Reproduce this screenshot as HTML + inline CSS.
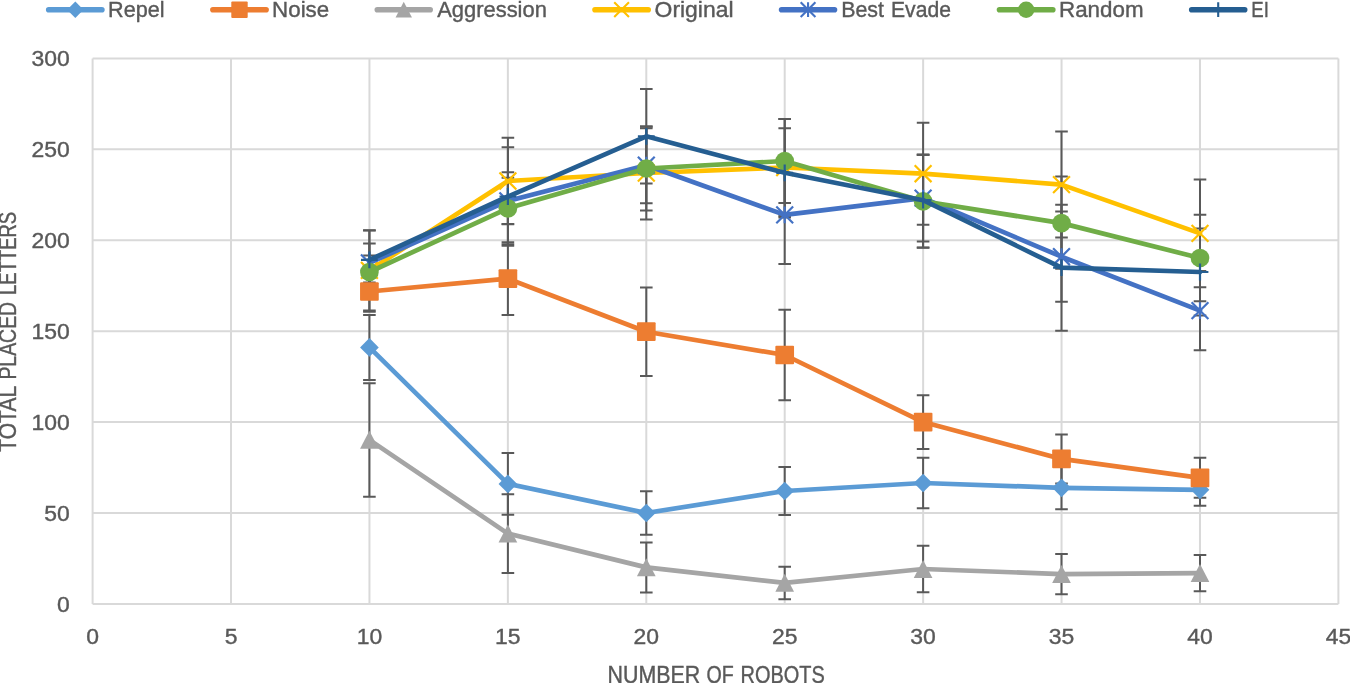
<!DOCTYPE html>
<html><head><meta charset="utf-8"><title>chart</title>
<style>html,body{margin:0;padding:0;background:#fff;overflow:hidden}svg{display:block;will-change:transform}text{font-family:"Liberation Sans",sans-serif;fill:#595959;stroke:#595959;stroke-width:0.4px}</style></head>
<body>
<svg width="1350" height="683" viewBox="0 0 1350 683">
<rect width="1350" height="683" fill="#fff"/>
<g stroke="#d9d9d9" stroke-width="2" fill="none">
<line x1="92.60" y1="58.4" x2="92.60" y2="603.9"/>
<line x1="231.02" y1="58.4" x2="231.02" y2="603.9"/>
<line x1="369.44" y1="58.4" x2="369.44" y2="603.9"/>
<line x1="507.87" y1="58.4" x2="507.87" y2="603.9"/>
<line x1="646.29" y1="58.4" x2="646.29" y2="603.9"/>
<line x1="784.71" y1="58.4" x2="784.71" y2="603.9"/>
<line x1="923.13" y1="58.4" x2="923.13" y2="603.9"/>
<line x1="1061.56" y1="58.4" x2="1061.56" y2="603.9"/>
<line x1="1199.98" y1="58.4" x2="1199.98" y2="603.9"/>
<line x1="1338.40" y1="58.4" x2="1338.40" y2="603.9"/>
<line x1="92.6" y1="603.90" x2="1338.4" y2="603.90"/>
<line x1="92.6" y1="512.98" x2="1338.4" y2="512.98"/>
<line x1="92.6" y1="422.07" x2="1338.4" y2="422.07"/>
<line x1="92.6" y1="331.15" x2="1338.4" y2="331.15"/>
<line x1="92.6" y1="240.23" x2="1338.4" y2="240.23"/>
<line x1="92.6" y1="149.32" x2="1338.4" y2="149.32"/>
<line x1="92.6" y1="58.40" x2="1338.4" y2="58.40"/>
</g>
<g stroke="#595959" stroke-width="2.0" fill="none">
<path d="M369.40 314.90L369.40 379.90M363.10 314.90L375.70 314.90M363.10 379.90L375.70 379.90"/>
<path d="M507.90 453.10L507.90 514.70M501.60 453.10L514.20 453.10M501.60 514.70L514.20 514.70"/>
<path d="M646.30 491.30L646.30 534.70M640.00 491.30L652.60 491.30M640.00 534.70L652.60 534.70"/>
<path d="M784.70 467.00L784.70 515.00M778.40 467.00L791.00 467.00M778.40 515.00L791.00 515.00"/>
<path d="M923.10 457.80L923.10 508.20M916.80 457.80L929.40 457.80M916.80 508.20L929.40 508.20"/>
<path d="M1061.50 466.40L1061.50 509.20M1055.20 466.40L1067.80 466.40M1055.20 509.20L1067.80 509.20"/>
<path d="M1200.00 473.80L1200.00 505.80M1193.70 473.80L1206.30 473.80M1193.70 505.80L1206.30 505.80"/>
<path d="M369.40 271.20L369.40 311.80M363.10 271.20L375.70 271.20M363.10 311.80L375.70 311.80"/>
<path d="M507.90 242.30L507.90 314.90M501.60 242.30L514.20 242.30M501.60 314.90L514.20 314.90"/>
<path d="M646.30 287.50L646.30 375.90M640.00 287.50L652.60 287.50M640.00 375.90L652.60 375.90"/>
<path d="M784.70 309.75L784.70 400.25M778.40 309.75L791.00 309.75M778.40 400.25L791.00 400.25"/>
<path d="M923.10 395.25L923.10 448.95M916.80 395.25L929.40 395.25M916.80 448.95L929.40 448.95"/>
<path d="M1061.50 434.40L1061.50 483.40M1055.20 434.40L1067.80 434.40M1055.20 483.40L1067.80 483.40"/>
<path d="M1200.00 457.80L1200.00 497.80M1193.70 457.80L1206.30 457.80M1193.70 497.80L1206.30 497.80"/>
<path d="M369.40 383.15L369.40 496.65M363.10 383.15L375.70 383.15M363.10 496.65L375.70 496.65"/>
<path d="M507.90 494.25L507.90 572.95M501.60 494.25L514.20 494.25M501.60 572.95L514.20 572.95"/>
<path d="M646.30 542.40L646.30 592.40M640.00 542.40L652.60 542.40M640.00 592.40L652.60 592.40"/>
<path d="M784.70 566.65L784.70 599.15M778.40 566.65L791.00 566.65M778.40 599.15L791.00 599.15"/>
<path d="M923.10 545.80L923.10 592.20M916.80 545.80L929.40 545.80M916.80 592.20L929.40 592.20"/>
<path d="M1061.50 553.95L1061.50 594.25M1055.20 553.95L1067.80 553.95M1055.20 594.25L1067.80 594.25"/>
<path d="M1200.00 555.05L1200.00 591.15M1193.70 555.05L1206.30 555.05M1193.70 591.15L1206.30 591.15"/>
<path d="M369.40 230.40L369.40 310.40M363.10 230.40L375.70 230.40M363.10 310.40L375.70 310.40"/>
<path d="M507.90 137.80L507.90 224.20M501.60 137.80L514.20 137.80M501.60 224.20L514.20 224.20"/>
<path d="M646.30 126.50L646.30 219.50M640.00 126.50L652.60 126.50M640.00 219.50L652.60 219.50"/>
<path d="M784.70 119.10L784.70 215.90M778.40 119.10L791.00 119.10M778.40 215.90L791.00 215.90"/>
<path d="M923.10 122.70L923.10 224.70M916.80 122.70L929.40 122.70M916.80 224.70L929.40 224.70"/>
<path d="M1061.50 131.60L1061.50 237.60M1055.20 131.60L1067.80 131.60M1055.20 237.60L1067.80 237.60"/>
<path d="M1200.00 179.50L1200.00 287.30M1193.70 179.50L1206.30 179.50M1193.70 287.30L1206.30 287.30"/>
<path d="M369.40 243.40L369.40 282.40M363.10 243.40L375.70 243.40M363.10 282.40L375.70 282.40"/>
<path d="M507.90 177.80L507.90 224.00M501.60 177.80L514.20 177.80M501.60 224.00L514.20 224.00"/>
<path d="M646.30 128.30L646.30 203.30M640.00 128.30L652.60 128.30M640.00 203.30L652.60 203.30"/>
<path d="M784.70 165.90L784.70 263.90M778.40 165.90L791.00 165.90M778.40 263.90L791.00 263.90"/>
<path d="M923.10 154.75L923.10 241.45M916.80 154.75L929.40 154.75M916.80 241.45L929.40 241.45"/>
<path d="M1061.50 211.60L1061.50 301.80M1055.20 211.60L1067.80 211.60M1055.20 301.80L1067.80 301.80"/>
<path d="M1200.00 270.90L1200.00 350.30M1193.70 270.90L1206.30 270.90M1193.70 350.30L1206.30 350.30"/>
<path d="M369.40 255.60L369.40 288.40M363.10 255.60L375.70 255.60M363.10 288.40L375.70 288.40"/>
<path d="M507.90 172.30L507.90 244.30M501.60 172.30L514.20 172.30M501.60 244.30L514.20 244.30"/>
<path d="M646.30 126.40L646.30 210.60M640.00 126.40L652.60 126.40M640.00 210.60L652.60 210.60"/>
<path d="M784.70 119.05L784.70 202.95M778.40 119.05L791.00 119.05M778.40 202.95L791.00 202.95"/>
<path d="M923.10 154.85L923.10 247.75M916.80 154.85L929.40 154.85M916.80 247.75L929.40 247.75"/>
<path d="M1061.50 176.60L1061.50 268.80M1055.20 176.60L1067.80 176.60M1055.20 268.80L1067.80 268.80"/>
<path d="M1200.00 214.85L1200.00 301.15M1193.70 214.85L1206.30 214.85M1193.70 301.15L1206.30 301.15"/>
<path d="M369.40 230.20L369.40 289.60M363.10 230.20L375.70 230.20M363.10 289.60L375.70 289.60"/>
<path d="M507.90 147.20L507.90 245.80M501.60 147.20L514.20 147.20M501.60 245.80L514.20 245.80"/>
<path d="M646.30 89.00L646.30 183.60M640.00 89.00L652.60 89.00M640.00 183.60L652.60 183.60"/>
<path d="M784.70 128.20L784.70 217.40M778.40 128.20L791.00 128.20M778.40 217.40L791.00 217.40"/>
<path d="M923.10 154.70L923.10 247.60M916.80 154.70L929.40 154.70M916.80 247.60L929.40 247.60"/>
<path d="M1061.50 204.70L1061.50 330.70M1055.20 204.70L1067.80 204.70M1055.20 330.70L1067.80 330.70"/>
<path d="M1200.00 228.60L1200.00 315.40M1193.70 228.60L1206.30 228.60M1193.70 315.40L1206.30 315.40"/>
</g>
<!-- Repel -->
<polyline points="369.40,347.40 507.90,483.90 646.30,513.00 784.70,491.00 923.10,483.00 1061.50,487.80 1200.00,489.80" fill="none" stroke="#5b9bd5" stroke-width="4.7" stroke-linejoin="round" stroke-linecap="round"/>
<path d="M360.05 347.40L369.40 338.05L378.75 347.40L369.40 356.75Z" fill="#5b9bd5"/>
<path d="M498.55 483.90L507.90 474.55L517.25 483.90L507.90 493.25Z" fill="#5b9bd5"/>
<path d="M636.95 513.00L646.30 503.65L655.65 513.00L646.30 522.35Z" fill="#5b9bd5"/>
<path d="M775.35 491.00L784.70 481.65L794.05 491.00L784.70 500.35Z" fill="#5b9bd5"/>
<path d="M913.75 483.00L923.10 473.65L932.45 483.00L923.10 492.35Z" fill="#5b9bd5"/>
<path d="M1052.15 487.80L1061.50 478.45L1070.85 487.80L1061.50 497.15Z" fill="#5b9bd5"/>
<path d="M1190.65 489.80L1200.00 480.45L1209.35 489.80L1200.00 499.15Z" fill="#5b9bd5"/>
<!-- Noise -->
<polyline points="369.40,291.50 507.90,278.60 646.30,331.70 784.70,355.00 923.10,422.10 1061.50,458.90 1200.00,477.80" fill="none" stroke="#ed7d31" stroke-width="4.7" stroke-linejoin="round" stroke-linecap="round"/>
<rect x="360.05" y="282.15" width="18.70" height="18.70" rx="1" fill="#ed7d31"/>
<rect x="498.55" y="269.25" width="18.70" height="18.70" rx="1" fill="#ed7d31"/>
<rect x="636.95" y="322.35" width="18.70" height="18.70" rx="1" fill="#ed7d31"/>
<rect x="775.35" y="345.65" width="18.70" height="18.70" rx="1" fill="#ed7d31"/>
<rect x="913.75" y="412.75" width="18.70" height="18.70" rx="1" fill="#ed7d31"/>
<rect x="1052.15" y="449.55" width="18.70" height="18.70" rx="1" fill="#ed7d31"/>
<rect x="1190.65" y="468.45" width="18.70" height="18.70" rx="1" fill="#ed7d31"/>
<!-- Aggression -->
<polyline points="369.40,439.90 507.90,533.60 646.30,567.40 784.70,582.90 923.10,569.00 1061.50,574.10 1200.00,573.10" fill="none" stroke="#a5a5a5" stroke-width="4.7" stroke-linejoin="round" stroke-linecap="round"/>
<path d="M369.40 430.85L378.75 448.85L360.05 448.85Z" fill="#a5a5a5"/>
<path d="M507.90 524.55L517.25 542.55L498.55 542.55Z" fill="#a5a5a5"/>
<path d="M646.30 558.35L655.65 576.35L636.95 576.35Z" fill="#a5a5a5"/>
<path d="M784.70 573.85L794.05 591.85L775.35 591.85Z" fill="#a5a5a5"/>
<path d="M923.10 559.95L932.45 577.95L913.75 577.95Z" fill="#a5a5a5"/>
<path d="M1061.50 565.05L1070.85 583.05L1052.15 583.05Z" fill="#a5a5a5"/>
<path d="M1200.00 564.05L1209.35 582.05L1190.65 582.05Z" fill="#a5a5a5"/>
<!-- Original -->
<polyline points="369.40,270.40 507.90,181.00 646.30,173.00 784.70,167.50 923.10,173.70 1061.50,184.60 1200.00,233.40" fill="none" stroke="#ffc000" stroke-width="4.7" stroke-linejoin="round" stroke-linecap="round"/>
<path d="M360.98 261.98L377.81 278.81M360.98 278.81L377.81 261.98" stroke="#ffc000" stroke-width="2.2" fill="none"/>
<path d="M499.48 172.59L516.31 189.41M499.48 189.41L516.31 172.59" stroke="#ffc000" stroke-width="2.2" fill="none"/>
<path d="M637.88 164.59L654.71 181.41M637.88 181.41L654.71 164.59" stroke="#ffc000" stroke-width="2.2" fill="none"/>
<path d="M776.29 159.09L793.12 175.91M776.29 175.91L793.12 159.09" stroke="#ffc000" stroke-width="2.2" fill="none"/>
<path d="M914.69 165.28L931.51 182.11M914.69 182.11L931.51 165.28" stroke="#ffc000" stroke-width="2.2" fill="none"/>
<path d="M1053.09 176.19L1069.91 193.01M1053.09 193.01L1069.91 176.19" stroke="#ffc000" stroke-width="2.2" fill="none"/>
<path d="M1191.59 224.99L1208.41 241.81M1191.59 241.81L1208.41 224.99" stroke="#ffc000" stroke-width="2.2" fill="none"/>
<!-- Best Evade -->
<polyline points="369.40,262.90 507.90,200.90 646.30,165.20 784.70,214.90 923.10,198.10 1061.50,256.70 1200.00,310.60" fill="none" stroke="#4472c4" stroke-width="4.7" stroke-linejoin="round" stroke-linecap="round"/>
<path d="M360.98 254.48L377.81 271.31M360.98 271.31L377.81 254.48M369.40 254.48L369.40 271.31" stroke="#4472c4" stroke-width="2.2" fill="none"/>
<path d="M499.48 192.49L516.31 209.31M499.48 209.31L516.31 192.49M507.90 192.49L507.90 209.31" stroke="#4472c4" stroke-width="2.2" fill="none"/>
<path d="M637.88 156.78L654.71 173.61M637.88 173.61L654.71 156.78M646.30 156.78L646.30 173.61" stroke="#4472c4" stroke-width="2.2" fill="none"/>
<path d="M776.29 206.49L793.12 223.31M776.29 223.31L793.12 206.49M784.70 206.49L784.70 223.31" stroke="#4472c4" stroke-width="2.2" fill="none"/>
<path d="M914.69 189.69L931.51 206.51M914.69 206.51L931.51 189.69M923.10 189.69L923.10 206.51" stroke="#4472c4" stroke-width="2.2" fill="none"/>
<path d="M1053.09 248.28L1069.91 265.12M1053.09 265.12L1069.91 248.28M1061.50 248.28L1061.50 265.12" stroke="#4472c4" stroke-width="2.2" fill="none"/>
<path d="M1191.59 302.19L1208.41 319.02M1191.59 319.02L1208.41 302.19M1200.00 302.19L1200.00 319.02" stroke="#4472c4" stroke-width="2.2" fill="none"/>
<!-- Random -->
<polyline points="369.40,272.00 507.90,208.30 646.30,168.50 784.70,161.00 923.10,201.30 1061.50,223.10 1200.00,258.00" fill="none" stroke="#70ad47" stroke-width="4.7" stroke-linejoin="round" stroke-linecap="round"/>
<circle cx="369.40" cy="272.00" r="9.35" fill="#70ad47"/>
<circle cx="507.90" cy="208.30" r="9.35" fill="#70ad47"/>
<circle cx="646.30" cy="168.50" r="9.35" fill="#70ad47"/>
<circle cx="784.70" cy="161.00" r="9.35" fill="#70ad47"/>
<circle cx="923.10" cy="201.30" r="9.35" fill="#70ad47"/>
<circle cx="1061.50" cy="223.10" r="9.35" fill="#70ad47"/>
<circle cx="1200.00" cy="258.00" r="9.35" fill="#70ad47"/>
<!-- EI -->
<polyline points="369.40,259.90 507.90,196.50 646.30,136.30 784.70,172.80 923.10,200.20 1061.50,267.70 1200.00,272.00" fill="none" stroke="#255e91" stroke-width="4.7" stroke-linejoin="round" stroke-linecap="round"/>
<path d="M360.98 259.90L377.81 259.90M369.40 251.48L369.40 268.31" stroke="#255e91" stroke-width="2.2" fill="none"/>
<path d="M499.48 196.50L516.31 196.50M507.90 188.09L507.90 204.91" stroke="#255e91" stroke-width="2.2" fill="none"/>
<path d="M637.88 136.30L654.71 136.30M646.30 127.89L646.30 144.72" stroke="#255e91" stroke-width="2.2" fill="none"/>
<path d="M776.29 172.80L793.12 172.80M784.70 164.39L784.70 181.22" stroke="#255e91" stroke-width="2.2" fill="none"/>
<path d="M914.69 200.20L931.51 200.20M923.10 191.78L923.10 208.61" stroke="#255e91" stroke-width="2.2" fill="none"/>
<path d="M1053.09 267.70L1069.91 267.70M1061.50 259.28L1061.50 276.12" stroke="#255e91" stroke-width="2.2" fill="none"/>
<path d="M1191.59 272.00L1208.41 272.00M1200.00 263.58L1200.00 280.42" stroke="#255e91" stroke-width="2.2" fill="none"/>
<line x1="48.70" y1="9.7" x2="101.90" y2="9.7" stroke="#5b9bd5" stroke-width="5.6" stroke-linecap="round"/>
<path d="M67.10 9.70L75.30 1.50L83.50 9.70L75.30 17.90Z" fill="#5b9bd5"/>
<line x1="212.90" y1="9.7" x2="266.10" y2="9.7" stroke="#ed7d31" stroke-width="5.6" stroke-linecap="round"/>
<rect x="231.30" y="1.50" width="16.40" height="16.40" rx="1" fill="#ed7d31"/>
<line x1="377.30" y1="9.7" x2="430.20" y2="9.7" stroke="#a5a5a5" stroke-width="5.6" stroke-linecap="round"/>
<path d="M403.75 1.80L411.95 17.50L395.55 17.50Z" fill="#a5a5a5"/>
<line x1="595.00" y1="9.7" x2="648.20" y2="9.7" stroke="#ffc000" stroke-width="5.6" stroke-linecap="round"/>
<path d="M614.22 2.32L628.98 17.08M614.22 17.08L628.98 2.32" stroke="#ffc000" stroke-width="2.1" fill="none"/>
<line x1="781.60" y1="9.7" x2="834.50" y2="9.7" stroke="#4472c4" stroke-width="5.6" stroke-linecap="round"/>
<path d="M800.67 2.32L815.43 17.08M800.67 17.08L815.43 2.32M808.05 2.32L808.05 17.08" stroke="#4472c4" stroke-width="2.1" fill="none"/>
<line x1="999.50" y1="9.7" x2="1052.80" y2="9.7" stroke="#70ad47" stroke-width="5.6" stroke-linecap="round"/>
<circle cx="1026.15" cy="9.70" r="8.20" fill="#70ad47"/>
<line x1="1191.70" y1="9.7" x2="1244.70" y2="9.7" stroke="#255e91" stroke-width="5.6" stroke-linecap="round"/>
<path d="M1210.82 9.70L1225.58 9.70M1218.20 2.32L1218.20 17.08" stroke="#255e91" stroke-width="2.1" fill="none"/>
<text x="56.95" y="611.70" font-size="22.7" textLength="12.75" lengthAdjust="spacingAndGlyphs">0</text>
<text x="44.20" y="520.78" font-size="22.7" textLength="25.50" lengthAdjust="spacingAndGlyphs">50</text>
<text x="31.45" y="429.87" font-size="22.7" textLength="38.25" lengthAdjust="spacingAndGlyphs">100</text>
<text x="31.45" y="338.95" font-size="22.7" textLength="38.25" lengthAdjust="spacingAndGlyphs">150</text>
<text x="31.45" y="248.03" font-size="22.7" textLength="38.25" lengthAdjust="spacingAndGlyphs">200</text>
<text x="31.45" y="157.12" font-size="22.7" textLength="38.25" lengthAdjust="spacingAndGlyphs">250</text>
<text x="31.45" y="66.20" font-size="22.7" textLength="38.25" lengthAdjust="spacingAndGlyphs">300</text>
<text x="86.22" y="644.2" font-size="22.7" textLength="12.75" lengthAdjust="spacingAndGlyphs">0</text>
<text x="224.65" y="644.2" font-size="22.7" textLength="12.75" lengthAdjust="spacingAndGlyphs">5</text>
<text x="356.69" y="644.2" font-size="22.7" textLength="25.50" lengthAdjust="spacingAndGlyphs">10</text>
<text x="495.12" y="644.2" font-size="22.7" textLength="25.50" lengthAdjust="spacingAndGlyphs">15</text>
<text x="633.54" y="644.2" font-size="22.7" textLength="25.50" lengthAdjust="spacingAndGlyphs">20</text>
<text x="771.96" y="644.2" font-size="22.7" textLength="25.50" lengthAdjust="spacingAndGlyphs">25</text>
<text x="910.38" y="644.2" font-size="22.7" textLength="25.50" lengthAdjust="spacingAndGlyphs">30</text>
<text x="1048.81" y="644.2" font-size="22.7" textLength="25.50" lengthAdjust="spacingAndGlyphs">35</text>
<text x="1187.23" y="644.2" font-size="22.7" textLength="25.50" lengthAdjust="spacingAndGlyphs">40</text>
<text x="1325.65" y="644.2" font-size="22.7" textLength="25.50" lengthAdjust="spacingAndGlyphs">45</text>
<text x="108.08" y="16.9" font-size="22.8" textLength="56.51" lengthAdjust="spacingAndGlyphs">Repel</text>
<text x="272.10" y="16.9" font-size="22.8" textLength="57.12" lengthAdjust="spacingAndGlyphs">Noise</text>
<text x="437.17" y="16.9" font-size="22.8" textLength="109.75" lengthAdjust="spacingAndGlyphs">Aggression</text>
<text x="654.58" y="16.9" font-size="22.8" textLength="78.93" lengthAdjust="spacingAndGlyphs">Original</text>
<text x="841.21" y="16.9" font-size="22.8" textLength="42.78" lengthAdjust="spacingAndGlyphs">Best</text>
<text x="890.98" y="16.9" font-size="22.8" textLength="59.91" lengthAdjust="spacingAndGlyphs">Evade</text>
<text x="1059.02" y="16.9" font-size="22.8" textLength="84.51" lengthAdjust="spacingAndGlyphs">Random</text>
<text x="1251.28" y="16.9" font-size="22.8" textLength="17.62" lengthAdjust="spacingAndGlyphs">EI</text>
<text x="607.59" y="683.3" font-size="23.4" textLength="92.63" lengthAdjust="spacingAndGlyphs">NUMBER</text>
<text x="706.39" y="683.3" font-size="23.4" textLength="27.23" lengthAdjust="spacingAndGlyphs">OF</text>
<text x="740.58" y="683.3" font-size="23.4" textLength="84.17" lengthAdjust="spacingAndGlyphs">ROBOTS</text>
<text transform="translate(16.2 451.70) rotate(-90)" font-size="23.4" textLength="65.79" lengthAdjust="spacingAndGlyphs">TOTAL</text>
<text transform="translate(16.2 379.61) rotate(-90)" font-size="23.4" textLength="77.77" lengthAdjust="spacingAndGlyphs">PLACED</text>
<text transform="translate(16.2 294.97) rotate(-90)" font-size="23.4" textLength="83.15" lengthAdjust="spacingAndGlyphs">LETTERS</text>
</svg>
</body></html>
